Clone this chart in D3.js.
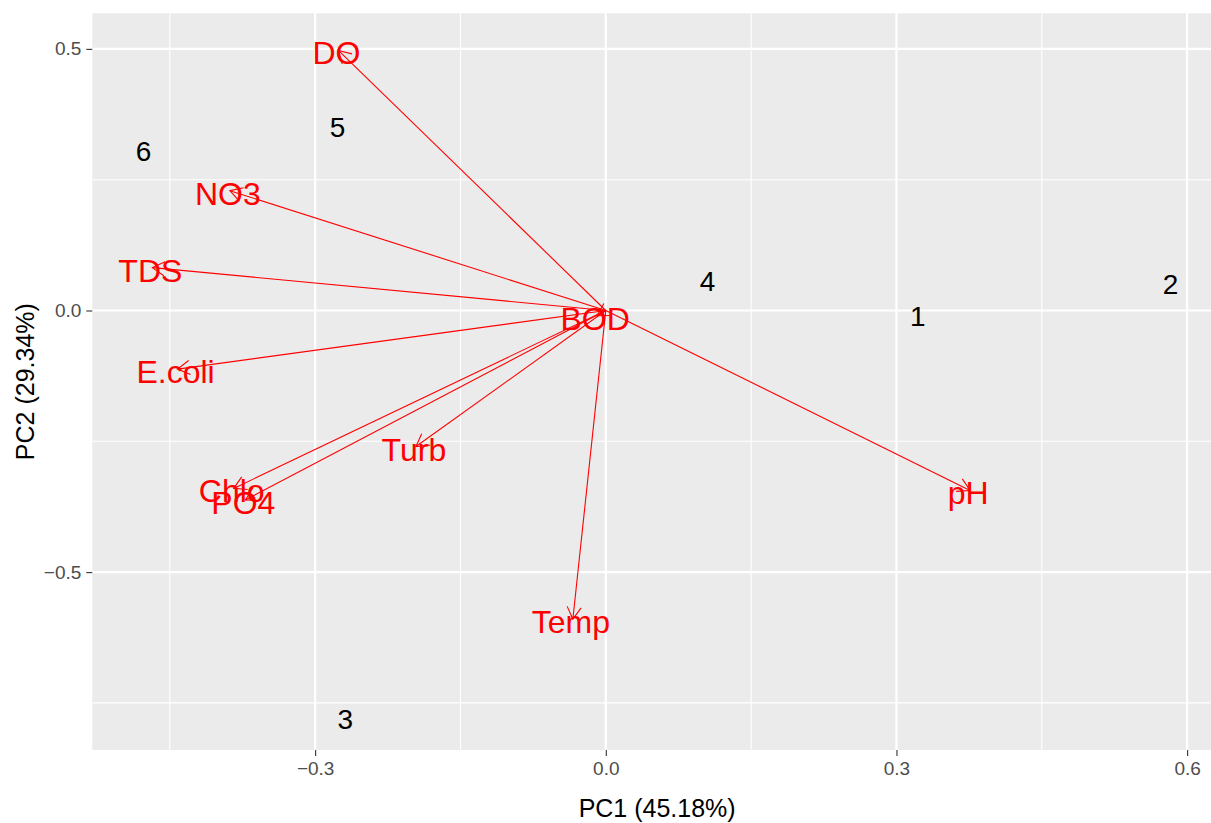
<!DOCTYPE html>
<html>
<head>
<meta charset="utf-8">
<script src="https://cdn.jsdelivr.net/npm/d3@7/dist/d3.min.js"></script>
<style>
  body { margin: 0; background: #fff; }
  svg { display: block; font-family: "Liberation Sans", Arial, sans-serif; }
  .tick-label { fill: #4d4d4d; font-size: 20px; }
  .axis-title { fill: #000; font-size: 25px; }
  .var-label { fill: #ff0000; font-size: 32px; }
  .site-label { fill: #000; font-size: 28px; }
</style>
</head>
<body>
<svg id="chart"></svg>
<script>
// site scores (PC1, PC2)
var siteNames = ["1", "2", "3", "4", "5", "6"];
var siteX = [0.322, 0.583, -0.269, 0.105, -0.277, -0.477];
var siteY = [-0.012, 0.050, -0.782, 0.055, 0.350, 0.304];

// variable loadings (arrow tips)
var varNames = ["DO", "NO3", "TDS", "E.coli", "Chlo", "PO4", "Turb", "Temp", "pH", "BOD"];
var varX = [-0.276, -0.388, -0.468, -0.442, -0.384, -0.372, -0.196, -0.034, 0.376, -0.009];
var varY = [0.497, 0.229, 0.082, -0.112, -0.340, -0.362, -0.260, -0.590, -0.344, -0.010];

var xMajor = [-0.3, 0.0, 0.3, 0.6];
var xMinor = [-0.45, -0.15, 0.15, 0.45];
var yMajor = [-0.5, 0.0, 0.5];
var yMinor = [-0.75, -0.25, 0.25];

var W = 1211, H = 823;
var panel = {left: 92.3, right: 1222, top: 13.3, bottom: 750};

var svg = d3.select("#chart").attr("width", W).attr("height", H);

var x = d3.scaleLinear().domain([-0.530, 0.636]).range([panel.left, panel.right]);
var y = d3.scaleLinear().domain([-0.840, 0.568]).range([panel.bottom, panel.top]);

// panel background
svg.append("rect")
   .attr("x", panel.left).attr("y", panel.top)
   .attr("width", panel.right - panel.left)
   .attr("height", panel.bottom - panel.top)
   .attr("fill", "#ebebeb");

// grid lines
var grid = svg.append("g");
grid.selectAll(".xmin").data(xMinor).enter().append("line")
    .attr("x1", d => x(d)).attr("x2", d => x(d))
    .attr("y1", panel.top).attr("y2", panel.bottom)
    .attr("stroke", "#fff").attr("stroke-width", 1.1);
grid.selectAll(".ymin").data(yMinor).enter().append("line")
    .attr("y1", d => y(d)).attr("y2", d => y(d))
    .attr("x1", panel.left).attr("x2", panel.right)
    .attr("stroke", "#fff").attr("stroke-width", 1.1);
grid.selectAll(".xmaj").data(xMajor).enter().append("line")
    .attr("x1", d => x(d)).attr("x2", d => x(d))
    .attr("y1", panel.top).attr("y2", panel.bottom)
    .attr("stroke", "#fff").attr("stroke-width", 2.2);
grid.selectAll(".ymaj").data(yMajor).enter().append("line")
    .attr("y1", d => y(d)).attr("y2", d => y(d))
    .attr("x1", panel.left).attr("x2", panel.right)
    .attr("stroke", "#fff").attr("stroke-width", 2.2);

// axes (ggplot style: grey ticks, no domain line)
var fmt = d3.format(".1f");
var xAxis = svg.append("g")
    .attr("transform", "translate(0," + panel.bottom + ")")
    .call(d3.axisBottom(x).tickValues(xMajor).tickFormat(fmt).tickSize(6).tickPadding(6));
var yAxis = svg.append("g")
    .attr("transform", "translate(" + panel.left + ",0)")
    .call(d3.axisLeft(y).tickValues(yMajor).tickFormat(fmt).tickSize(6).tickPadding(5));
[xAxis, yAxis].forEach(function (a) {
    a.select(".domain").remove();
    a.selectAll(".tick line").attr("stroke", "#333").attr("stroke-width", 1.1);
    a.selectAll(".tick text").attr("class", "tick-label").attr("fill", null)
     .style("font-family", "\"Liberation Sans\", Arial, sans-serif").style("font-size", "19px");
});

// axis titles
svg.append("text").attr("class", "axis-title")
   .attr("x", (panel.left + panel.right) / 2).attr("y", 817)
   .attr("text-anchor", "middle").text("PC1 (45.18%)");
svg.append("text").attr("class", "axis-title")
   .attr("transform", "translate(34," + ((panel.top + panel.bottom) / 2) + ") rotate(-90)")
   .attr("text-anchor", "middle").text("PC2 (29.34%)");

// clip to panel
svg.append("clipPath").attr("id", "clip").append("rect")
   .attr("x", panel.left).attr("y", panel.top)
   .attr("width", panel.right - panel.left).attr("height", panel.bottom - panel.top);
var plot = svg.append("g").attr("clip-path", "url(#clip)");

// site labels
plot.selectAll(".site-label").data(siteNames).enter().append("text")
    .attr("class", "site-label")
    .attr("x", (d, i) => x(siteX[i]))
    .attr("y", (d, i) => y(siteY[i]))
    .attr("text-anchor", "middle")
    .attr("dominant-baseline", "central")
    .text(d => d);

// loading arrows
var headLen = 14, headAng = Math.PI / 6;
var arrows = plot.selectAll(".arrow").data(varNames).enter().append("g");
arrows.append("line")
    .attr("x1", x(0)).attr("y1", y(0))
    .attr("x2", (d, i) => x(varX[i]))
    .attr("y2", (d, i) => y(varY[i]))
    .attr("stroke", "#ff0000").attr("stroke-width", 1.1);
arrows.append("path")
    .attr("fill", "none").attr("stroke", "#ff0000").attr("stroke-width", 1.1)
    .attr("d", function (d, i) {
        var tx = x(varX[i]), ty = y(varY[i]);
        var a = Math.atan2(ty - y(0), tx - x(0));
        var p1 = [tx - headLen * Math.cos(a - headAng), ty - headLen * Math.sin(a - headAng)];
        var p2 = [tx - headLen * Math.cos(a + headAng), ty - headLen * Math.sin(a + headAng)];
        return "M" + p1 + "L" + tx + "," + ty + "L" + p2;
    });

// variable labels at the arrow tips
plot.selectAll(".var-label").data(varNames).enter().append("text")
    .attr("class", "var-label")
    .attr("x", (d, i) => x(varX[i]) - 2)
    .attr("y", (d, i) => y(varY[i]) + 3)
    .attr("text-anchor", "middle")
    .attr("dominant-baseline", "central")
    .text(d => d);
</script>
</body>
</html>
